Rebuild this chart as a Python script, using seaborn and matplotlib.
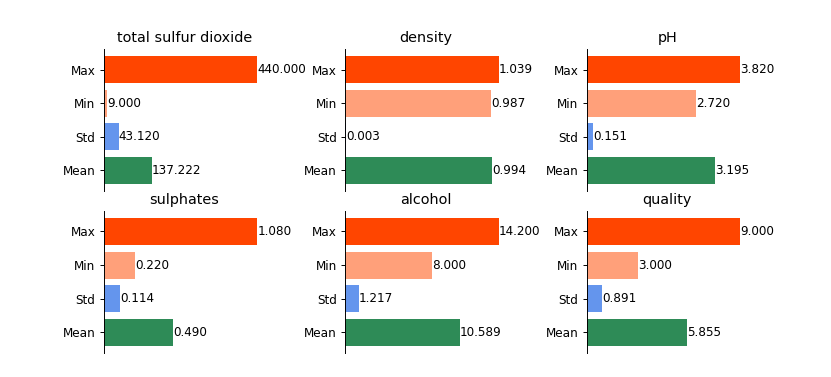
import pandas as pd
import seaborn as sns
import matplotlib.pyplot as plt

# statistics per column (bottom to top in the picture: Mean, Std, Min, Max)
columns = ['total sulfur dioxide', 'density', 'pH', 'sulphates', 'alcohol', 'quality']
stats = ['Max', 'Min', 'Std', 'Mean']
max_vals = [440.000, 1.039, 3.820, 1.080, 14.200, 9.000]
min_vals = [9.000, 0.987, 2.720, 0.220, 8.000, 3.000]
std_vals = [43.120, 0.003, 0.151, 0.114, 1.217, 0.891]
mean_vals = [137.222, 0.994, 3.195, 0.490, 10.589, 5.855]

colors = {'Max': '#FF4500', 'Min': '#FFA07A', 'Std': '#6495ED', 'Mean': '#2E8B57'}

dpi = 86.56
fig, axes = plt.subplots(2, 3, figsize=(831 / dpi, 377 / dpi), dpi=dpi)
plt.subplots_adjust(left=0.125, right=0.9, top=0.870, bottom=0.064,
                    wspace=0.5, hspace=0.14)

for i, col in enumerate(columns):
    ax = axes.flat[i]
    df = pd.DataFrame({
        'stat': stats,
        'value': [max_vals[i], min_vals[i], std_vals[i], mean_vals[i]],
    })
    sns.barplot(data=df, x='value', y='stat', hue='stat', palette=colors,
                order=stats, saturation=1, legend=False, ax=ax, orient='h')
    for c in ax.containers:
        ax.bar_label(c, fmt='%.3f', fontsize=10)
    vmax = df['value'].max()
    ax.set_xlim(0, vmax * 1.05)
    ax.set_ylim(3.61, -0.61)
    ax.set_title(col, fontsize=12)
    ax.set_xlabel('')
    ax.set_ylabel('')
    ax.set_xticks([])
    for s in ['top', 'right', 'bottom']:
        ax.spines[s].set_visible(False)

plt.savefig('out.png', dpi=dpi)
